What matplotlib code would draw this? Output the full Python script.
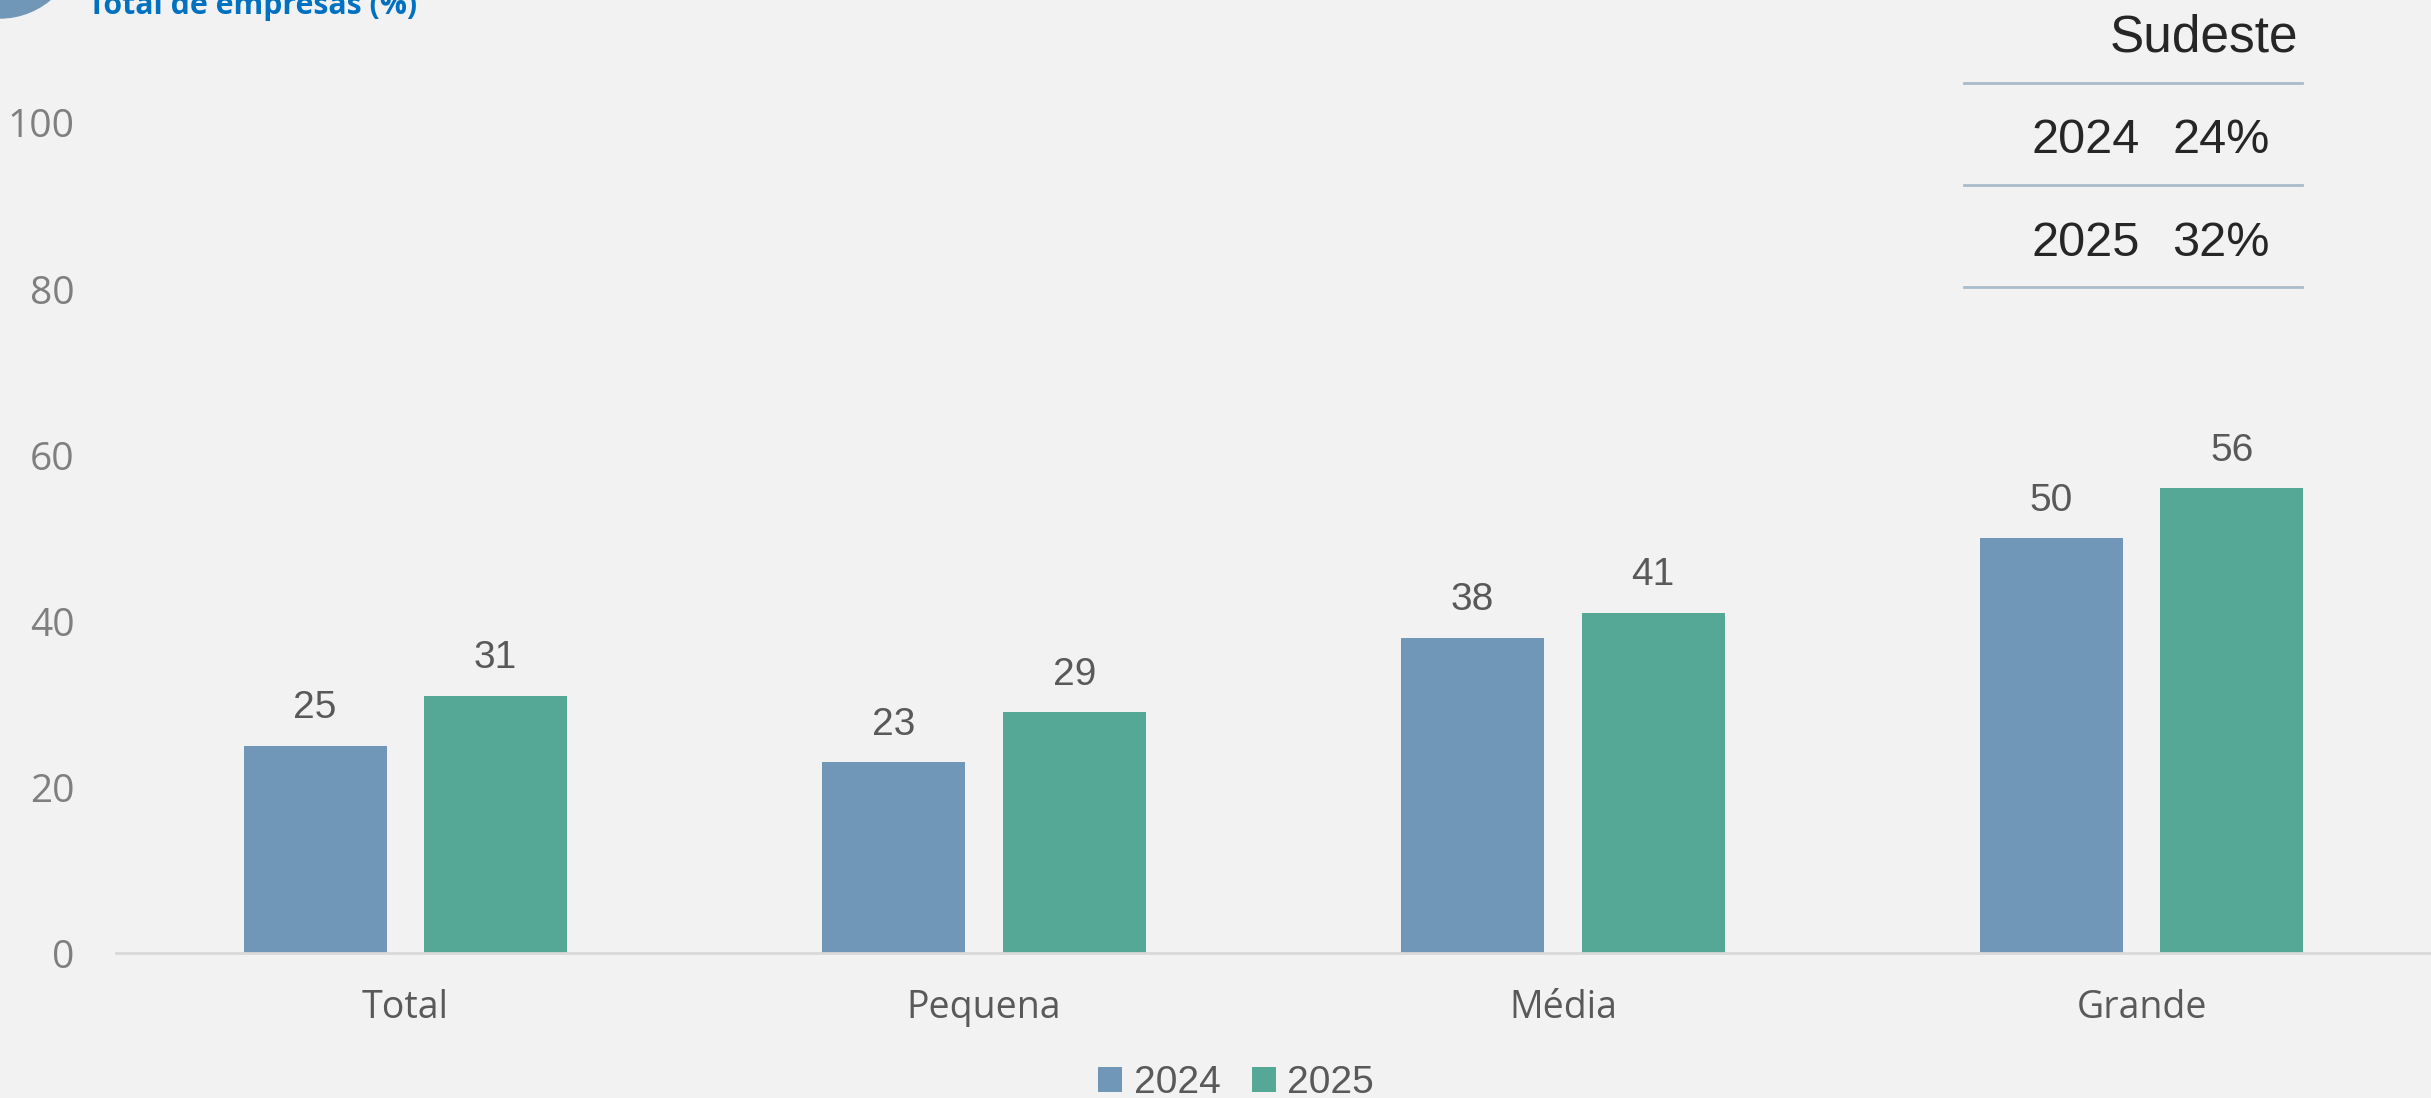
import matplotlib.pyplot as plt
from matplotlib.patches import Ellipse
from matplotlib.lines import Line2D
import numpy as np

# porte das empresas e percentuais por ano
categorias = ["Total", "Pequena", "Média", "Grande"]
anos = ["2024", "2025"]
valores_2024 = [25, 23, 38, 50]
valores_2025 = [31, 29, 41, 56]

# quadro resumo da região
regiao = "Sudeste"
regiao_valores = [24, 32]

cor_2024 = "#7097B8"
cor_2025 = "#56A896"
fundo = "#F2F2F2"

W, H = 2431, 1098
fig = plt.figure(figsize=(W / 100, H / 100), dpi=100, facecolor=fundo)
ax = fig.add_axes([116 / W, 1 - 953 / H, 1 - 116 / W, (953 - 123) / H])
ax.set_facecolor(fundo)

x = np.arange(len(categorias))
largura = 0.247
desloc = 0.156
b1 = ax.bar(x - desloc, valores_2024, largura, color=cor_2024, label=anos[0])
b2 = ax.bar(x + desloc, valores_2025, largura, color=cor_2025, label=anos[1])

for barras in (b1, b2):
    ax.bar_label(barras, padding=14, fontsize=28, color="#595959",
                 family="Liberation Sans")

ax.set_xlim(-0.5, 3.5)
ax.set_ylim(0, 100)
ax.set_yticks(range(0, 101, 20))
ax.set_xticks(x)
ax.set_xticklabels(categorias)

for s in ["top", "right", "left"]:
    ax.spines[s].set_visible(False)
ax.spines["bottom"].set_color("#D9D9D9")
ax.spines["bottom"].set_linewidth(2)
ax.tick_params(axis="y", length=0, pad=30, labelsize=28, labelcolor="#7F7F7F")
ax.tick_params(axis="x", length=0, pad=26, labelsize=27, labelcolor="#595959")
for lbl in ax.get_xticklabels() + ax.get_yticklabels():
    lbl.set_family("Open Sans")

# legenda embaixo
leg = fig.legend(loc="center", bbox_to_anchor=(1236 / W, 1 - 1083 / H),
                 ncol=2, frameon=False, handlelength=0.62,
                 handleheight=0.62, handletextpad=0.3, columnspacing=0.8,
                 prop={"family": "Liberation Sans", "size": 28})
for t in leg.get_texts():
    t.set_color("#595959")

# marcador circular e título no canto superior
r = 78
fig.add_artist(Ellipse((0, 1 + 60 / H), 2 * r / W, 2 * r / H,
                       transform=fig.transFigure, color=cor_2024, clip_on=False))
fig.text(88 / W, 1 - 14 / H, "Total de empresas (%)", fontsize=21.8,
         fontweight="bold", color="#0070C0", family="Open Sans",
         ha="left", va="baseline")

# quadro Sudeste
fig.text(2298 / W, 1 - 52 / H, regiao, fontsize=37, color="#262626",
         family="Liberation Sans", ha="right", va="baseline")
for yl in (83, 185, 287):
    fig.add_artist(Line2D([1964 / W, 2302 / W], [1 - yl / H, 1 - yl / H],
                          transform=fig.transFigure, color="#A9BCCB", lw=2))
for i, (ano, v) in enumerate(zip(anos, regiao_valores)):
    yb = 1 - (153 + 103 * i) / H
    fig.text(2140 / W, yb, ano, fontsize=35, color="#262626",
             family="Liberation Sans", ha="right", va="baseline")
    fig.text(2270 / W, yb, f"{v}%", fontsize=35, color="#262626",
             family="Liberation Sans", ha="right", va="baseline")

fig.savefig("out.png", dpi=100, facecolor=fundo)
